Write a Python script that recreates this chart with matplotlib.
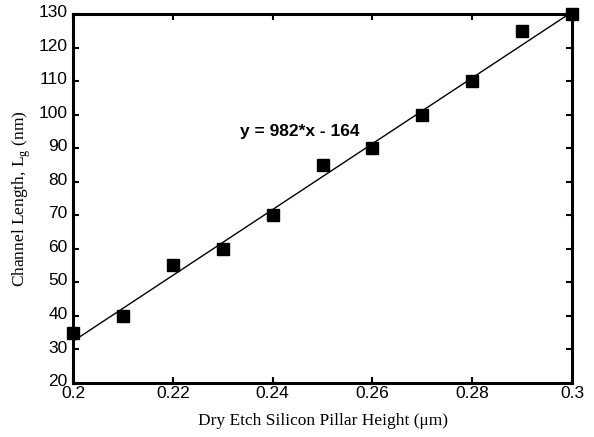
import numpy as np
import matplotlib
matplotlib.use("Agg")
import matplotlib.pyplot as plt
import matplotlib.transforms as mtransforms

# measured points
pillar_height = [0.20, 0.21, 0.22, 0.23, 0.24, 0.25, 0.26, 0.27, 0.28, 0.29, 0.30]
channel_len = [35, 40, 55, 60, 70, 85, 90, 100, 110, 125, 130]

# linear fit shown on the chart
slope, intercept = 982, -164
fit_x = [0.20, 0.30]

xticks = [0.2, 0.22, 0.24, 0.26, 0.28, 0.3]
xticklabels = ["0.2", "0.22", "0.24", "0.26", "0.28", "0.3"]
yticks = [20, 30, 40, 50, 60, 70, 80, 90, 100, 110, 120, 130]

plt.rcParams["font.family"] = "Liberation Sans"
plt.rcParams["mathtext.fontset"] = "custom"
plt.rcParams["mathtext.rm"] = "Liberation Serif"

fig = plt.figure(figsize=(5.94, 4.37), dpi=100)
ax = fig.add_axes([0.123, 0.124, 0.840, 0.844])

fx = np.array(fit_x)
ax.plot(fx, slope * fx + intercept, color="black", lw=1.0, zorder=2)
ax.plot(pillar_height, channel_len, "s", color="black", ms=8.5, zorder=3,
        clip_on=False)

ax.set_xlim(0.2, 0.3)
ax.set_ylim(20, 130)
ax.set_xticks(xticks)
ax.set_xticklabels(xticklabels)
ax.set_yticks(yticks)
ax.tick_params(direction="in", top=True, right=True, length=4, width=1.5,
               labelsize=12.5)
ax.tick_params(axis="x", pad=2)
ax.tick_params(axis="y", pad=4)
for s in ax.spines.values():
    s.set_linewidth(2.2)

# nudge y tick labels up a little, as in the original (keeps "20" off "0.2")
shift = mtransforms.ScaledTranslation(0, 2 / 72, fig.dpi_scale_trans)
for lbl in ax.get_yticklabels():
    lbl.set_transform(lbl.get_transform() + shift)

ax.text(0.2335, 95, "y = 982*x - 164", fontsize=12.5, fontweight="bold",
        ha="left", va="center")

serif = {"family": "Liberation Serif", "size": 12.5}
ax.set_xlabel("Dry Etch Silicon Pillar Height (\u03bcm)", fontdict=serif, labelpad=9)
ax.set_ylabel("Channel Length, L$_\\mathrm{g}$ (nm)", fontdict=serif, labelpad=4)

fig.savefig("out.png", dpi=100)
